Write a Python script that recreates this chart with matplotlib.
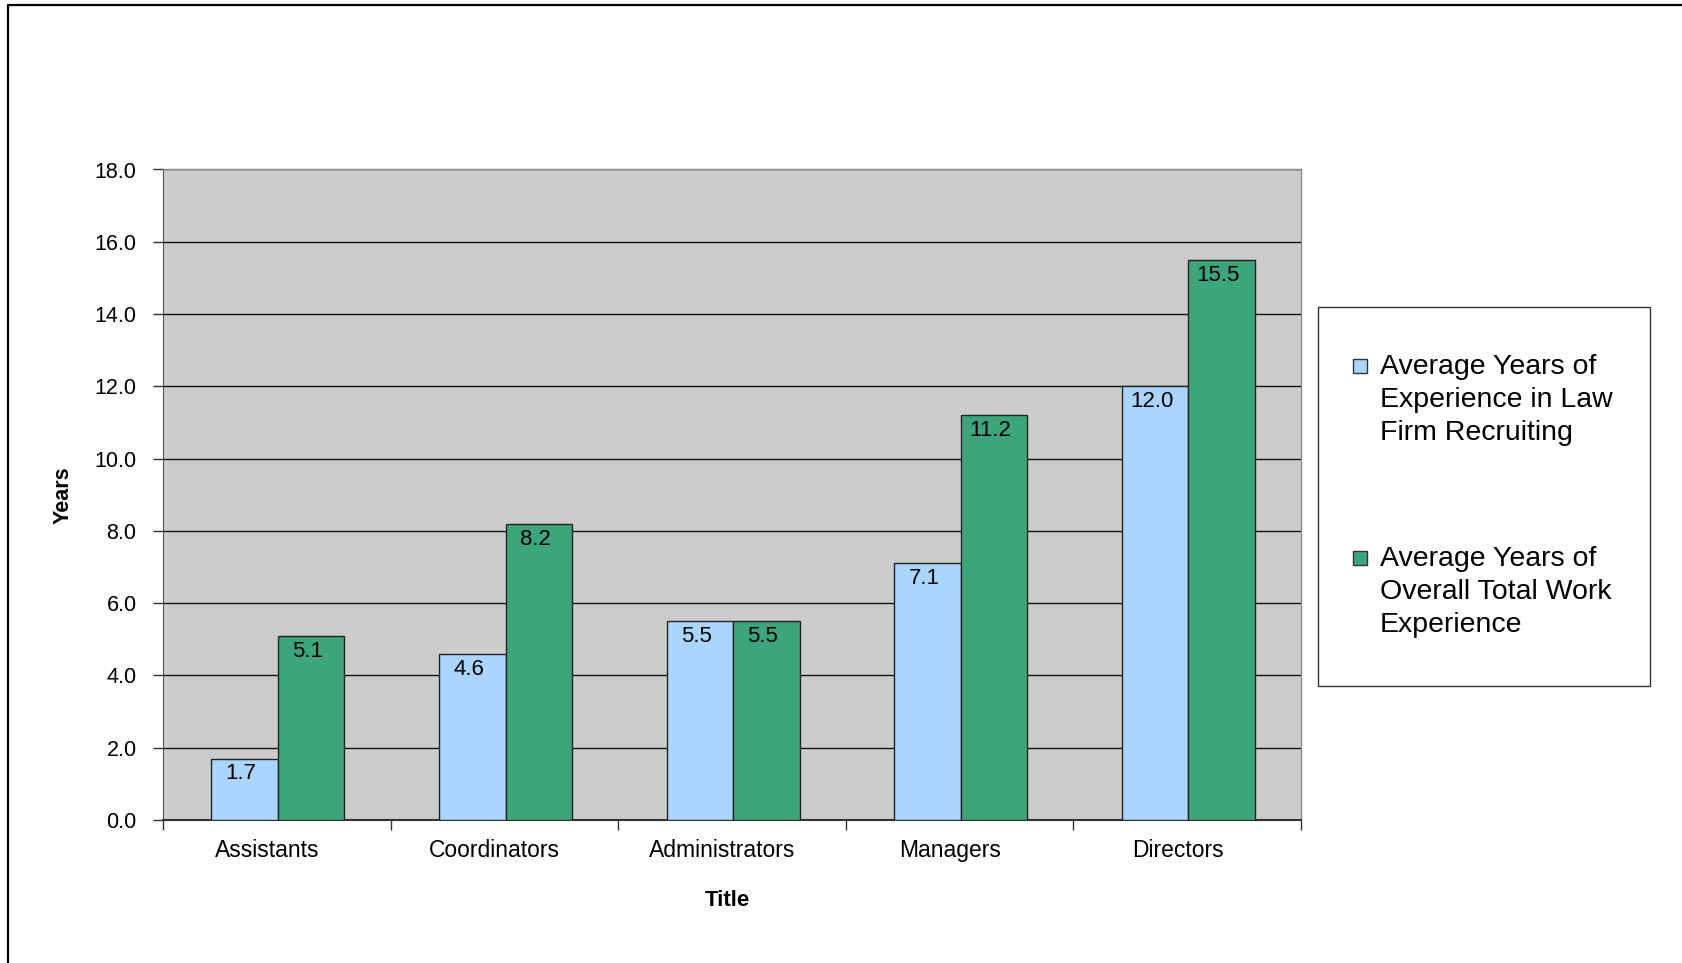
import matplotlib.pyplot as plt
import numpy as np
from matplotlib.patches import Rectangle
from matplotlib.lines import Line2D

plt.rcParams['font.family'] = ['Liberation Sans', 'DejaVu Sans']

titles = ["Assistants", "Coordinators", "Administrators", "Managers", "Directors"]
law_firm = [1.7, 4.6, 5.5, 7.1, 12.0]
overall = [5.1, 8.2, 5.5, 11.2, 15.5]
series_names = ["Average Years of\nExperience in Law\nFirm Recruiting",
                "Average Years of\nOverall Total Work\nExperience"]
colors = ["#A9D5FF", "#3CA67A"]
yticks = np.arange(0, 18.1, 2.0)

W, H = 1683, 963
fig = plt.figure(figsize=(W / 100, H / 100), dpi=100)

# axes placed in pixel coords
l, r, t, b = 163, 1301, 169.5, 820
ax = fig.add_axes([l / W, (H - b) / H, (r - l) / W, (b - t) / H])
ax.set_facecolor("#CCCCCC")

x = np.arange(len(titles))
w = 0.292
sets = [law_firm, overall]
for k, vals in enumerate(sets):
    pos = x + (k - 0.5) * w + 0.005
    ax.bar(pos, vals, width=w, color=colors[k], edgecolor="#222222", linewidth=1.0, zorder=3)
    for p, v in zip(pos, vals):
        ax.annotate(f"{v:.1f}", (p, v), xytext=(-2.5, -3.5), textcoords="offset points",
                    ha="center", va="top", fontsize=16, zorder=4)

ax.set_xlim(-0.5, len(titles) - 0.5)
ax.set_ylim(0, 18)
ax.set_yticks(yticks)
ax.set_yticklabels([f"{v:.1f}" for v in yticks], fontsize=15.5)
ax.yaxis.grid(True, color="#111111", linewidth=1.0, zorder=1)
ax.set_axisbelow(True)

# category labels between boundary ticks (Excel draws them a touch left of centre)
ax.set_xticks(np.arange(-0.5, len(titles) + 0.5, 1.0))
ax.set_xticklabels([])
ax.set_xticks(x - 0.042, minor=True)
ax.set_xticklabels(titles, minor=True, fontsize=16.5)
ax.tick_params(axis="x", which="major", direction="out", length=7, width=1, color="#333333")
ax.tick_params(axis="x", which="minor", length=0, pad=14)
ax.tick_params(axis="y", direction="out", length=7, width=1, color="#333333", pad=12)

for s in ["top", "right"]:
    ax.spines[s].set_color("#8C8C8C")
    ax.spines[s].set_linewidth(1.0)
ax.spines["left"].set_color("#555555")
ax.spines["bottom"].set_color("#333333")
ax.spines["bottom"].set_linewidth(1.5)

ax.set_ylabel("Years", fontsize=15.5, fontweight="bold", labelpad=15)
ax.set_xlabel("Title", fontsize=16, fontweight="bold", labelpad=20)
ax.xaxis.label.set_x(0.496)

# legend box drawn by hand in figure pixels
def fx(px):
    return px / W

def fy(py):
    return 1 - py / H

fig.patches.append(Rectangle((fx(1318), fy(686)), fx(1650) - fx(1318), fy(307) - fy(686),
                             transform=fig.transFigure, facecolor="white",
                             edgecolor="#333333", linewidth=1.0))
for k, (name, yy) in enumerate(zip(series_names, [366, 558])):
    fig.patches.append(Rectangle((fx(1353), fy(yy + 7)), fx(14), 14 / H,
                                 transform=fig.transFigure, facecolor=colors[k],
                                 edgecolor="#333333", linewidth=1.0))
    fig.text(fx(1380), fy(yy - 12), name, fontsize=20.5, va="top", ha="left",
             linespacing=1.36)

# outer chart border (cropped at right/bottom)
fig.add_artist(Line2D([fx(8), fx(8), 1.0], [0.0, fy(5.5), fy(5.5)],
                      transform=fig.transFigure, color="black", linewidth=1.6))

fig.savefig("out.png", dpi=100)
